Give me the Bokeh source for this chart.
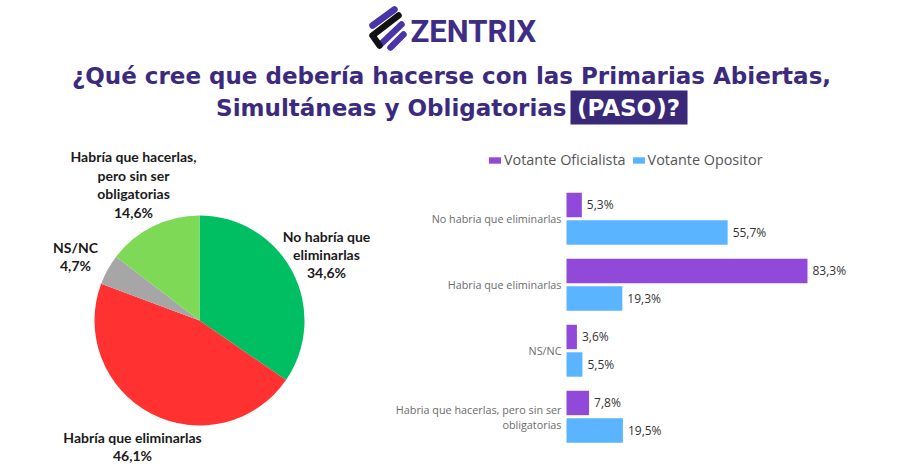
import numpy as np
from bokeh.plotting import figure
from bokeh.models import Range1d, ColumnDataSource, Legend, LegendItem
from bokeh.layouts import column, row
from bokeh.transform import dodge
from bokeh.core.properties import value
from bokeh.embed import file_html
from bokeh.resources import INLINE

# ---------------- data ----------------
brand = "ZENTRIX"
title_line1 = "¿Qué cree que debería hacerse con las Primarias Abiertas,"
title_line2 = "Simultáneas y Obligatorias"
title_tag = "(PASO)?"

pie_categories = ["No habría que eliminarlas", "Habría que eliminarlas", "NS/NC",
                  "Habría que hacerlas, pero sin ser obligatorias"]
pie_display = ["No habría que\neliminarlas", "Habría que eliminarlas", "NS/NC",
               "Habría que hacerlas,\npero sin ser\nobligatorias"]
pie_values = [34.6, 46.1, 4.7, 14.6]
pie_colors = ["#00bf63", "#ff3131", "#a6a6a6", "#7ed957"]

bar_categories = ["No habria que eliminarlas", "Habria que eliminarlas", "NS/NC",
                  "Habria que hacerlas, pero sin ser obligatorias"]
bar_tick_labels = ["No habria que eliminarlas", "Habria que eliminarlas", "NS/NC",
                   "Habria que hacerlas, pero sin ser\nobligatorias"]
series_names = ["Votante Oficialista", "Votante Opositor"]
oficialista = [5.3, 83.3, 3.6, 7.8]
opositor = [55.7, 19.3, 5.5, 19.5]
series_colors = ["#9049d8", "#5bb4ff"]

TITLE_COLOR = "#3b2a7e"
TITLE_FONT = "DejaVu Sans"


def pct(v):
    return f"{v:.1f}".replace(".", ",") + "%"


def blank(fig):
    fig.grid.visible = False
    fig.outline_line_color = None
    fig.background_fill_color = "white"
    fig.border_fill_color = "white"
    return fig


# ---------------- header ----------------
hdr = blank(figure(width=900, height=135, x_range=Range1d(0, 900), y_range=Range1d(135, 0),
                   toolbar_location=None, output_backend="svg", min_border=0,
                   x_axis_location=None, y_axis_location=None))

# logo icon (stylised stripes)
hdr.multi_line(xs=[[394, 372], [401, 381], [403, 390]], ys=[[9, 25], [24, 43], [34, 47]],
               line_color="#4a35a8", line_width=6.5, line_cap="round")
hdr.multi_line(xs=[[398, 372, 379]], ys=[[15, 35, 45]],
               line_color="#111111", line_width=6.5, line_cap="round", line_join="round")
hdr.text(x=[410], y=[31], text=[brand], text_font=value("Roboto"), text_font_style="bold",
         text_font_size="31px", text_color="#3d2d86", text_baseline="middle", text_align="left")

hdr.text(x=[451], y=[75], text=[title_line1], text_font=value(TITLE_FONT), text_font_style="bold",
         text_font_size="23px", text_color=TITLE_COLOR, text_baseline="middle", text_align="center")
hdr.quad(left=[570], right=[687], top=[90], bottom=[124], fill_color="#3a2878", line_color=None)
hdr.text(x=[566], y=[107], text=[title_line2], text_font=value(TITLE_FONT), text_font_style="bold",
         text_font_size="23px", text_color=TITLE_COLOR, text_baseline="middle", text_align="right")
hdr.text(x=[628], y=[107], text=[title_tag], text_font=value(TITLE_FONT), text_font_style="bold",
         text_font_size="23px", text_color="white", text_baseline="middle", text_align="center")

# ---------------- pie ----------------
PW, BH = 375, 333
pie = blank(figure(width=PW, height=BH, x_range=Range1d(0, PW), y_range=Range1d(0, BH),
                   toolbar_location=None, output_backend="svg", min_border=0,
                   x_axis_location=None, y_axis_location=None))


def py(y):  # page y -> pie data y
    return 468 - y


frac = np.array(pie_values) / np.sum(pie_values)
cum_end = np.cumsum(frac)
cum_start = cum_end - frac
pie_src = ColumnDataSource(dict(
    cat=pie_categories,
    val=pie_values,
    color=pie_colors,
    start=np.pi / 2 - cum_end * 2 * np.pi,
    end=np.pi / 2 - cum_start * 2 * np.pi,
))
pie.wedge(x=199, y=py(320), radius=105, start_angle="start", end_angle="end",
          direction="anticlock", fill_color="color", line_color=None, source=pie_src)

label_pos = [(326, 254), (132, 446), (75, 256), (133, 184)]
pie_lbl = ColumnDataSource(dict(
    x=[p[0] for p in label_pos],
    y=[py(p[1]) for p in label_pos],
    text=[d + "\n" + pct(v) for d, v in zip(pie_display, pie_values)],
))
pie.text(x="x", y="y", text="text", source=pie_lbl, text_font=value("Lato"), text_font_style="bold",
         text_font_size="14px", text_color="#1a1a1a", text_align="center", text_baseline="middle",
         text_line_height=1.08)

# ---------------- bars ----------------
BW = 900 - PW
X0 = 566 - PW        # pixel position of the 0 % line inside the bar figure
SCALE = 2.893        # pixels per percentage point
GROUP = 66.0         # pixels per category
bars = blank(figure(width=BW, height=BH,
                    x_range=Range1d(-X0 / SCALE, (BW - X0) / SCALE),
                    y_range=Range1d((468 - 218) / GROUP, (135 - 218) / GROUP),
                    toolbar_location=None, output_backend="svg", min_border=0,
                    x_axis_location=None, y_axis_location=None))

bsrc = ColumnDataSource(dict(pos=list(range(len(bar_categories))), cat=bar_categories,
                             tick=bar_tick_labels, ofi=oficialista, opo=opositor,
                             ofi_t=[pct(v) for v in oficialista], opo_t=[pct(v) for v in opositor]))
OFF_OFI, OFF_OPO, BAR_H = -0.205, 0.212, 0.37
r1 = bars.hbar(y=dodge("pos", OFF_OFI), right="ofi", height=BAR_H,
               fill_color=series_colors[0], line_color=None, source=bsrc)
r2 = bars.hbar(y=dodge("pos", OFF_OPO), right="opo", height=BAR_H,
               fill_color=series_colors[1], line_color=None, source=bsrc)
for col, off in (("ofi", OFF_OFI), ("opo", OFF_OPO)):
    bars.text(x=col, y=dodge("pos", off), text=col + "_t", source=bsrc,
              x_offset=5, text_baseline="middle", text_align="left", text_font=value("Open Sans"),
              text_font_size="12px", text_color="#333333")

# category (tick) labels
bars.text(x=0, y="pos", text="tick", source=bsrc, x_offset=-5, text_align="right",
          text_baseline="middle", text_font=value("Open Sans"), text_font_size="10.8px",
          text_color="#6b6b6b", text_line_height=1.0)

legend = Legend(items=[LegendItem(label=series_names[0], renderers=[r1]),
                       LegendItem(label=series_names[1], renderers=[r2])],
                orientation="horizontal", location=(112, 299), padding=0, margin=0,
                spacing=5, label_standoff=2, glyph_width=15, glyph_height=8, label_height=18,
                label_text_font="Open Sans", label_text_font_size="14.4px",
                label_text_color="#555555", border_line_color=None, background_fill_alpha=0)
bars.add_layout(legend)

layout = column(hdr, row(pie, bars, spacing=0), spacing=0)
open("out.html", "w").write(file_html(layout, INLINE))
